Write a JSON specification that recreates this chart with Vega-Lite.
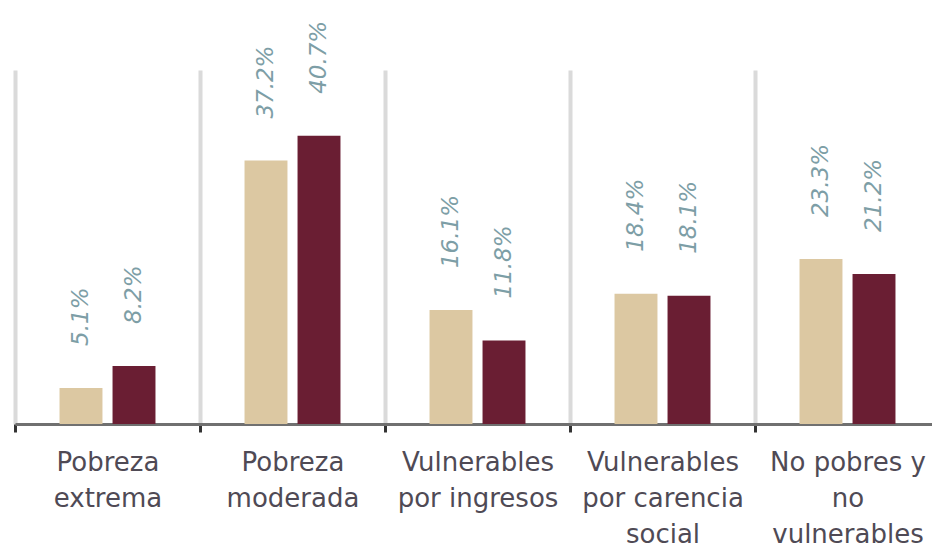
{
  "$schema": "https://vega.github.io/schema/vega-lite/v6.json",
  "width": 917,
  "height": 354,
  "autosize": "none",
  "padding": {"left": 15, "top": 70, "right": 0, "bottom": 124},
  "background": "white",
  "config": {"view": {"stroke": null}},
  "data": {
    "values": [
      {"categoria": "Pobreza|extrema", "serie": "A", "valor": 5.1, "etiqueta": "5.1%"},
      {"categoria": "Pobreza|extrema", "serie": "B", "valor": 8.2, "etiqueta": "8.2%"},
      {"categoria": "Pobreza|moderada", "serie": "A", "valor": 37.2, "etiqueta": "37.2%"},
      {"categoria": "Pobreza|moderada", "serie": "B", "valor": 40.7, "etiqueta": "40.7%"},
      {"categoria": "Vulnerables|por ingresos", "serie": "A", "valor": 16.1, "etiqueta": "16.1%"},
      {"categoria": "Vulnerables|por ingresos", "serie": "B", "valor": 11.8, "etiqueta": "11.8%"},
      {"categoria": "Vulnerables|por carencia|social", "serie": "A", "valor": 18.4, "etiqueta": "18.4%"},
      {"categoria": "Vulnerables|por carencia|social", "serie": "B", "valor": 18.1, "etiqueta": "18.1%"},
      {"categoria": "No pobres y|no|vulnerables", "serie": "A", "valor": 23.3, "etiqueta": "23.3%"},
      {"categoria": "No pobres y|no|vulnerables", "serie": "B", "valor": 21.2, "etiqueta": "21.2%"}
    ]
  },
  "encoding": {
    "x": {
      "field": "categoria",
      "type": "nominal",
      "sort": null,
      "title": null,
      "scale": {"range": [0, 925], "paddingInner": 0, "paddingOuter": 0},
      "axis": {
        "labelAngle": 0,
        "labelExpr": "split(datum.label, '|')",
        "labelFont": "DejaVu Sans",
        "labelFontSize": 26,
        "labelLineHeight": 36,
        "labelColor": "#4f4a55",
        "labelPadding": 17,
        "labelBaseline": "top",
        "tickBand": "extent",
        "ticks": true,
        "tickSize": 8,
        "tickWidth": 3,
        "tickColor": "#333333",
        "domainColor": "#707070",
        "domainWidth": 3,
        "grid": true,
        "gridColor": "#dadada",
        "gridWidth": 4
      }
    },
    "xOffset": {
      "field": "serie",
      "type": "nominal",
      "scale": {"paddingInner": 0.19, "paddingOuter": 0.84}
    },
    "y": {
      "field": "valor",
      "type": "quantitative",
      "scale": {"domain": [0, 50]},
      "axis": null
    }
  },
  "layer": [
    {
      "mark": {"type": "bar"},
      "encoding": {
        "color": {
          "field": "serie",
          "type": "nominal",
          "scale": {"domain": ["A", "B"], "range": ["#dcc8a2", "#6a1e33"]},
          "legend": null
        }
      }
    },
    {
      "mark": {
        "type": "text",
        "angle": 270,
        "align": "left",
        "baseline": "middle",
        "dx": 42,
        "font": "DejaVu Sans",
        "fontSize": 23,
        "fontStyle": "italic",
        "color": "#7d9ea6"
      },
      "encoding": {"text": {"field": "etiqueta"}}
    }
  ]
}
